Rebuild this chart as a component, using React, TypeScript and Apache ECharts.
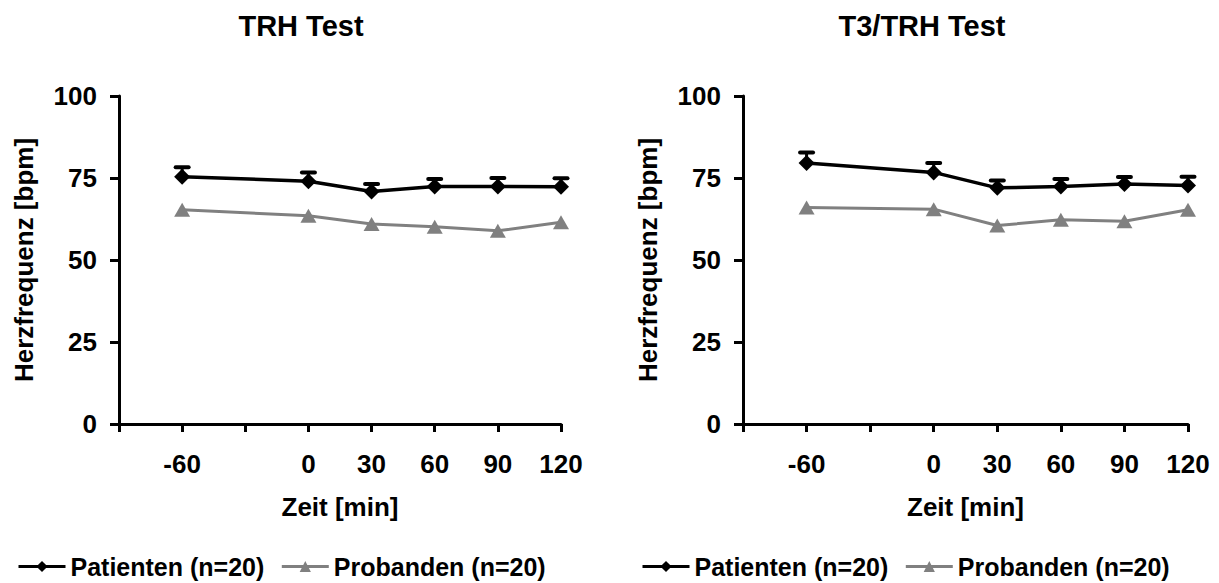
import React, { useEffect, useRef } from "react";
import * as echarts from "echarts";

const categories = ["", "-60", "", "0", "30", "60", "90", "120"];

const patTRH = [null, 75.4, null, 74.0, 70.9, 72.4, 72.4, 72.3];
const patTRHErr = [null, 2.9, null, 2.7, 2.3, 2.3, 2.6, 2.6];
const proTRH = [null, 65.3, null, 63.5, 61.0, 60.1, 58.9, 61.5];

const patT3 = [null, 79.6, null, 76.7, 72.0, 72.4, 73.2, 72.7];
const patT3Err = [null, 3.2, null, 2.9, 2.2, 2.3, 2.1, 2.7];
const proT3 = [null, 66.0, null, 65.5, 60.5, 62.3, 61.8, 65.3];

const titles = ["TRH Test", "T3/TRH Test"];
const seriesNames = ["Patienten (n=20)", "Probanden (n=20)"];
const yTicks = [0, 25, 50, 75, 100];

const FONT = "'Liberation Sans', Arial, sans-serif";
const GRAY = "#808080";

function errData(vals: (number | null)[], errs: (number | null)[]) {
  const out: number[][] = [];
  vals.forEach((v, i) => {
    if (v != null && errs[i] != null) out.push([i, v, errs[i] as number]);
  });
  return out;
}

export default function App() {
  const ref = useRef<HTMLDivElement>(null);
  useEffect(() => {
    if (!ref.current) return;
    const chart = echarts.init(ref.current, null, { renderer: "svg" });

    const grids = [
      { left: 119, top: 96, width: 442, height: 328 },
      { left: 743, top: 96, width: 445, height: 328 },
    ];

    const xAxes = grids.map((_, gi) => ({
      type: "category",
      gridIndex: gi,
      data: categories,
      boundaryGap: false,
      axisLine: { lineStyle: { color: "#000", width: 3 } },
      axisTick: { show: true, interval: 0, length: 8, lineStyle: { color: "#000", width: 3 } },
      axisLabel: {
        interval: 0,
        margin: 27,
        color: "#000",
        fontSize: 26,
        fontWeight: "bold",
        fontFamily: FONT,
      },
      splitLine: { show: false },
      name: "Zeit [min]",
      nameLocation: "middle",
      nameGap: 70,
      nameTextStyle: { color: "#000", fontSize: 26, fontWeight: "bold", fontFamily: FONT },
    }));

    const yAxes = grids.map((_, gi) => ({
      type: "value",
      gridIndex: gi,
      min: yTicks[0],
      max: yTicks[yTicks.length - 1],
      interval: 25,
      axisLine: { show: true, lineStyle: { color: "#000", width: 3 } },
      axisTick: { show: true, length: 9, lineStyle: { color: "#000", width: 3 } },
      axisLabel: {
        margin: 22,
        color: "#000",
        fontSize: 26,
        fontWeight: "bold",
        fontFamily: FONT,
      },
      splitLine: { show: false },
      name: "Herzfrequenz [bpm]",
      nameLocation: "middle",
      nameRotate: 90,
      nameGap: 82,
      nameTextStyle: { color: "#000", fontSize: 26, fontWeight: "bold", fontFamily: FONT },
    }));

    const datasets = [
      { pat: patTRH, err: patTRHErr, pro: proTRH },
      { pat: patT3, err: patT3Err, pro: proT3 },
    ];

    const series: any[] = [];
    datasets.forEach((d, gi) => {
      series.push({
        type: "custom",
        name: "err" + gi,
        xAxisIndex: gi,
        yAxisIndex: gi,
        z: 1,
        data: errData(d.pat, d.err),
        encode: { x: 0, y: 1 },
        renderItem: (params: any, api: any) => {
          const x = api.value(0);
          const y = api.value(1);
          const e = api.value(2);
          const p0 = api.coord([x, y]);
          const p1 = api.coord([x, y + e]);
          const hw = 6.5;
          return {
            type: "group",
            children: [
              {
                type: "line",
                shape: { x1: p0[0], y1: p0[1], x2: p1[0], y2: p1[1] },
                style: { stroke: "#000", lineWidth: 3 },
              },
              {
                type: "line",
                shape: { x1: p1[0] - hw, y1: p1[1], x2: p1[0] + hw, y2: p1[1] },
                style: { stroke: "#000", lineWidth: 4, lineCap: "round" },
              },
            ],
          };
        },
      });
      series.push({
        type: "line",
        name: seriesNames[0],
        xAxisIndex: gi,
        yAxisIndex: gi,
        data: d.pat,
        connectNulls: true,
        symbol: "diamond",
        symbolSize: [16, 16],
        z: 3,
        lineStyle: { color: "#000", width: 3.5 },
        itemStyle: { color: "#000" },
      });
      series.push({
        type: "line",
        name: seriesNames[1],
        xAxisIndex: gi,
        yAxisIndex: gi,
        data: d.pro,
        connectNulls: true,
        symbol: "triangle",
        symbolSize: [16, 14],
        z: 2,
        lineStyle: { color: GRAY, width: 3 },
        itemStyle: { color: GRAY },
      });
    });

    const legendBase = {
      data: seriesNames,
      orient: "horizontal",
      top: 554,
      padding: 0,
      itemWidth: 47,
      itemHeight: 14,
      itemGap: 16,
      selectedMode: false,
      lineStyle: { width: 3 },
      textStyle: {
        color: "#000",
        fontSize: 25,
        lineHeight: 25,
        fontWeight: "bold",
        fontFamily: FONT,
      },
    };

    chart.setOption({
      animation: false,
      backgroundColor: "#fff",
      title: [
        {
          text: titles[0],
          left: 296,
          top: 6,
          textAlign: "center",
          textStyle: { color: "#000", fontSize: 29, fontWeight: "bold", fontFamily: FONT },
        },
        {
          text: titles[1],
          left: 917,
          top: 6,
          textAlign: "center",
          textStyle: { color: "#000", fontSize: 29, fontWeight: "bold", fontFamily: FONT },
        },
      ],
      legend: [
        { ...legendBase, left: 17 },
        { ...legendBase, left: 641 },
      ],
      grid: grids,
      xAxis: xAxes,
      yAxis: yAxes,
      series,
    });

    return () => chart.dispose();
  }, []);

  return (
    <div
      ref={ref}
      style={{ position: "fixed", left: 0, top: 0, width: 1219, height: 583 }}
    />
  );
}
